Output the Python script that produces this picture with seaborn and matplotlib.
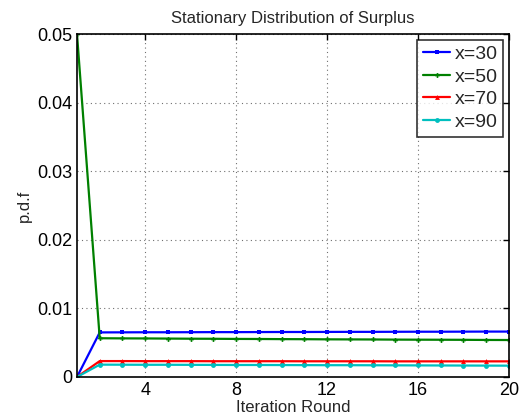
import numpy as np
import pandas as pd
import matplotlib
matplotlib.use("Agg")
import matplotlib.pyplot as plt
import seaborn as sns

rounds = list(range(1, 21))
x30 = [0, 0.00650, 0.00651, 0.00652, 0.00652, 0.00653, 0.00654, 0.00654, 0.00655, 0.00656,
       0.00656, 0.00657, 0.00658, 0.00658, 0.00659, 0.00660, 0.00660, 0.00661, 0.00662, 0.00662]
x50 = [0.05, 0.00565, 0.00563, 0.00562, 0.00560, 0.00558, 0.00557, 0.00555, 0.00554, 0.00552,
       0.00551, 0.00549, 0.00548, 0.00547, 0.00545, 0.00544, 0.00543, 0.00542, 0.00540, 0.00539]
x70 = [0, 0.00232, 0.00232, 0.00231, 0.00231, 0.00231, 0.00230, 0.00230, 0.00230, 0.00230,
       0.00229, 0.00229, 0.00229, 0.00229, 0.00228, 0.00228, 0.00228, 0.00228, 0.00228, 0.00228]
x90 = [0, 0.00180, 0.00179, 0.00178, 0.00178, 0.00177, 0.00176, 0.00175, 0.00175, 0.00174,
       0.00173, 0.00172, 0.00172, 0.00171, 0.00170, 0.00169, 0.00168, 0.00167, 0.00166, 0.00165]
labels = ["x=30", "x=50", "x=70", "x=90"]
colors = ["#0000ff", "#008000", "#ff0000", "#00bfbf"]
markers = ["s", "P", "^", "o"]

sns.set_style("white")
plt.rcParams['font.family'] = ['Liberation Sans', 'DejaVu Sans']

fig = plt.figure(figsize=(5.22, 4.2), dpi=100)
ax = fig.add_axes([0.1475, 0.1024, 0.8275, 0.8166])

for vals, lab, c, m in zip([x30, x50, x70, x90], labels, colors, markers):
    df = pd.DataFrame({"round": rounds, "pdf": vals})
    sns.lineplot(data=df, x="round", y="pdf", ax=ax, color=c, marker=m,
                 markersize=3.5, markeredgewidth=0, linewidth=1.6, label=lab)

ax.set_xlim(1, 20)
ax.set_ylim(0, 0.05)
ax.set_xticks([4, 8, 12, 16, 20])
ax.set_yticks([0, 0.01, 0.02, 0.03, 0.04, 0.05])
ax.set_yticklabels(["0", "0.01", "0.02", "0.03", "0.04", "0.05"])
ax.grid(True, linestyle=(0, (1, 3)), color='#707070', linewidth=0.8)
ax.tick_params(direction='in', length=4, labelsize=13, colors='black', width=1,
               top=True, right=True)
for s in ax.spines.values():
    s.set_color('black')
    s.set_linewidth(1.2)
ax.set_title("Stationary Distribution of Surplus", fontsize=12, pad=8)
ax.set_xlabel("Iteration Round", fontsize=12, labelpad=1)
ax.set_ylabel("p.d.f", fontsize=12, labelpad=4)
leg = ax.legend(loc='upper right', fontsize=14, frameon=True, fancybox=False,
                edgecolor='black', handlelength=1.4, handletextpad=0.2,
                borderpad=0.3, labelspacing=0.25, borderaxespad=0.3)
leg.get_frame().set_linewidth(1.2)

fig.savefig("out.png", dpi=100)
